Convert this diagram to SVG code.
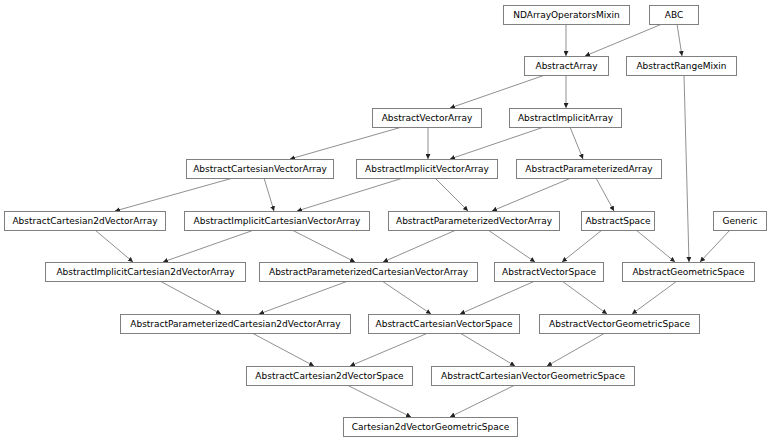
<svg xmlns="http://www.w3.org/2000/svg" width="768" height="441" viewBox="0 0 768 441">
<style>
rect{fill:#fff;stroke:#808080;stroke-width:1}
text{font-family:"DejaVu Sans","Liberation Sans",sans-serif;font-size:9px;fill:#000;text-anchor:middle}
#edges line{stroke:#606060;stroke-width:0.7;marker-end:url(#ah)}
</style>
<defs>
<marker id="ah" markerUnits="userSpaceOnUse" markerWidth="6" markerHeight="5" refX="5" refY="2.5" orient="auto">
<path d="M0,0L5,2.5L0,5z" fill="#222"/>
</marker>
</defs>
<rect x="0" y="0" width="768" height="441" style="stroke:none"/>
<g id="edges">
<line x1="566" y1="24" x2="566" y2="56"/>
<line x1="662" y1="24" x2="585" y2="56"/>
<line x1="677" y1="24" x2="682" y2="56"/>
<line x1="545" y1="75" x2="450" y2="108"/>
<line x1="566" y1="75" x2="566" y2="108"/>
<line x1="684" y1="75" x2="689" y2="262"/>
<line x1="402" y1="127" x2="290" y2="159"/>
<line x1="428" y1="127" x2="428" y2="159"/>
<line x1="544" y1="127" x2="450" y2="159"/>
<line x1="570" y1="127" x2="583" y2="159"/>
<line x1="233" y1="178" x2="115" y2="211"/>
<line x1="264" y1="178" x2="274" y2="211"/>
<line x1="403" y1="178" x2="297" y2="211"/>
<line x1="435" y1="178" x2="468" y2="211"/>
<line x1="571" y1="178" x2="492" y2="211"/>
<line x1="596" y1="178" x2="614" y2="211"/>
<line x1="95" y1="230" x2="133" y2="262"/>
<line x1="254" y1="230" x2="163" y2="262"/>
<line x1="292" y1="230" x2="355" y2="262"/>
<line x1="456" y1="230" x2="383" y2="262"/>
<line x1="488" y1="230" x2="535" y2="262"/>
<line x1="602" y1="230" x2="562" y2="262"/>
<line x1="636" y1="230" x2="675" y2="262"/>
<line x1="730" y1="230" x2="700" y2="262"/>
<line x1="160" y1="281" x2="221" y2="314"/>
<line x1="348" y1="281" x2="259" y2="314"/>
<line x1="382" y1="281" x2="431" y2="314"/>
<line x1="535" y1="281" x2="460" y2="314"/>
<line x1="562" y1="281" x2="607" y2="314"/>
<line x1="677" y1="281" x2="632" y2="314"/>
<line x1="252" y1="333" x2="314" y2="366"/>
<line x1="428" y1="333" x2="350" y2="366"/>
<line x1="460" y1="333" x2="515" y2="366"/>
<line x1="605" y1="333" x2="547" y2="366"/>
<line x1="347" y1="385" x2="411" y2="417"/>
<line x1="515" y1="385" x2="450" y2="417"/>
</g>
<g id="NDArrayOperatorsMixin"><rect x="503.5" y="5.5" width="126" height="19"/><text x="566.5" y="18.2">NDArrayOperatorsMixin</text></g>
<g id="ABC"><rect x="649.5" y="5.5" width="49" height="19"/><text x="674" y="18.2">ABC</text></g>
<g id="AbstractArray"><rect x="524.5" y="56.5" width="84" height="19"/><text x="566.5" y="69.2">AbstractArray</text></g>
<g id="AbstractRangeMixin"><rect x="626.5" y="56.5" width="110" height="19"/><text x="681.5" y="69.2">AbstractRangeMixin</text></g>
<g id="AbstractVectorArray"><rect x="372.5" y="108.5" width="109" height="19"/><text x="427" y="121.2">AbstractVectorArray</text></g>
<g id="AbstractImplicitArray"><rect x="509.5" y="108.5" width="112" height="19"/><text x="565.5" y="121.2">AbstractImplicitArray</text></g>
<g id="AbstractCartesianVectorArray"><rect x="186.5" y="159.5" width="147" height="19"/><text x="260" y="172.2">AbstractCartesianVectorArray</text></g>
<g id="AbstractImplicitVectorArray"><rect x="356.5" y="159.5" width="141" height="19"/><text x="427" y="172.2">AbstractImplicitVectorArray</text></g>
<g id="AbstractParameterizedArray"><rect x="516.5" y="159.5" width="145" height="19"/><text x="589" y="172.2">AbstractParameterizedArray</text></g>
<g id="AbstractCartesian2dVectorArray"><rect x="4.5" y="211.5" width="161" height="19"/><text x="85" y="224.2">AbstractCartesian2dVectorArray</text></g>
<g id="AbstractImplicitCartesianVectorArray"><rect x="184.5" y="211.5" width="185" height="19"/><text x="277" y="224.2">AbstractImplicitCartesianVectorArray</text></g>
<g id="AbstractParameterizedVectorArray"><rect x="388.5" y="211.5" width="171" height="19"/><text x="474" y="224.2">AbstractParameterizedVectorArray</text></g>
<g id="AbstractSpace"><rect x="581.5" y="211.5" width="73" height="19"/><text x="618" y="224.2">AbstractSpace</text></g>
<g id="Generic"><rect x="713.5" y="211.5" width="53" height="19"/><text x="740" y="224.2">Generic</text></g>
<g id="AbstractImplicitCartesian2dVectorArray"><rect x="45.5" y="262.5" width="200" height="19"/><text x="145.5" y="275.2">AbstractImplicitCartesian2dVectorArray</text></g>
<g id="AbstractParameterizedCartesianVectorArray"><rect x="259.5" y="262.5" width="218" height="19"/><text x="368.5" y="275.2">AbstractParameterizedCartesianVectorArray</text></g>
<g id="AbstractVectorSpace"><rect x="494.5" y="262.5" width="109" height="19"/><text x="549" y="275.2">AbstractVectorSpace</text></g>
<g id="AbstractGeometricSpace"><rect x="622.5" y="262.5" width="132" height="19"/><text x="688.5" y="275.2">AbstractGeometricSpace</text></g>
<g id="AbstractParameterizedCartesian2dVectorArray"><rect x="120.5" y="314.5" width="230" height="19"/><text x="235.5" y="327.2">AbstractParameterizedCartesian2dVectorArray</text></g>
<g id="AbstractCartesianVectorSpace"><rect x="368.5" y="314.5" width="151" height="19"/><text x="444" y="327.2">AbstractCartesianVectorSpace</text></g>
<g id="AbstractVectorGeometricSpace"><rect x="539.5" y="314.5" width="160" height="19"/><text x="619.5" y="327.2">AbstractVectorGeometricSpace</text></g>
<g id="AbstractCartesian2dVectorSpace"><rect x="246.5" y="366.5" width="166" height="19"/><text x="329.5" y="379.2">AbstractCartesian2dVectorSpace</text></g>
<g id="AbstractCartesianVectorGeometricSpace"><rect x="431.5" y="366.5" width="203" height="19"/><text x="533" y="379.2">AbstractCartesianVectorGeometricSpace</text></g>
<g id="Cartesian2dVectorGeometricSpace"><rect x="343.5" y="417.5" width="174" height="19"/><text x="430.5" y="430.2">Cartesian2dVectorGeometricSpace</text></g>
</svg>
